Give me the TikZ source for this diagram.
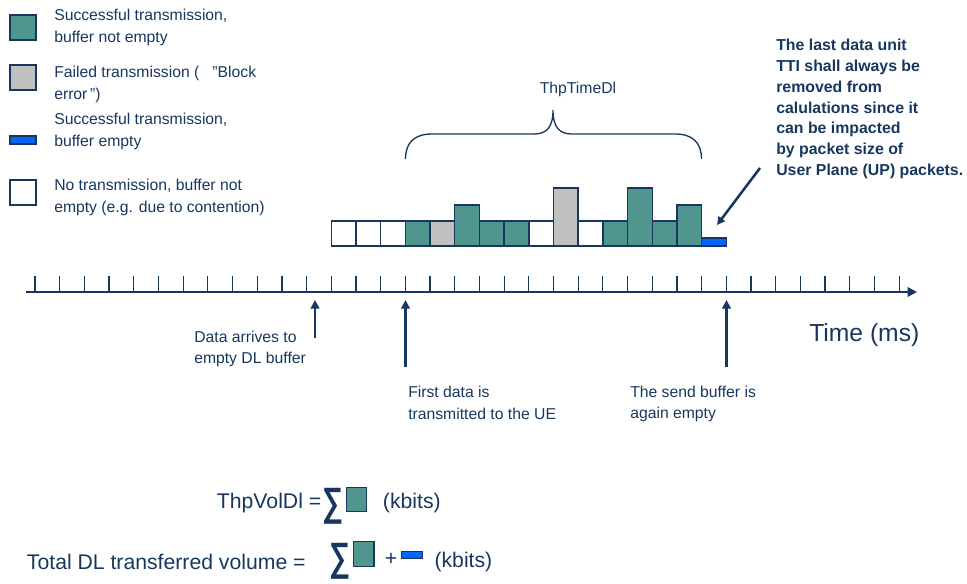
\documentclass[tikz,border=0pt]{standalone}
\usepackage{fontspec}
\setmainfont{Liberation Sans}
\usetikzlibrary{arrows.meta}
\definecolor{navy}{RGB}{23,55,94}
\definecolor{tealc}{RGB}{80,150,143}
\definecolor{greyc}{RGB}{192,192,192}
\definecolor{bluec}{RGB}{0,102,255}
\begin{document}
\begin{tikzpicture}[x=0.75pt,y=-0.75pt,
  lgd/.style={text=navy, font=\fontsize{11.8}{16.5}\selectfont, align=left, inner sep=0pt, anchor=west},
  lbl/.style={text=navy, font=\fontsize{11.8}{16}\selectfont, align=left, inner sep=0pt, anchor=west},
  note/.style={text=navy, font=\fontsize{11.9}{15.6}\selectfont\bfseries, align=left, inner sep=0pt, anchor=west},
  big/.style={text=navy, font=\fontsize{15.9}{18}\selectfont, inner sep=0pt},
  sig/.style={text=navy, font=\bfseries, inner sep=0pt, anchor=center},
  blk/.style={draw=navy, line width=1.1pt},
  tick/.style={draw=navy, line width=0.9pt},
  axisline/.style={draw=navy, line width=2.2pt, -{Triangle[length=7pt,width=7pt]}},
  uparrow/.style={draw=navy, line width=2.2pt, -{Triangle[length=6.5pt,width=6.5pt]}},
  brace/.style={draw=navy, line width=1pt}
]
\useasboundingbox (0,0) rectangle (967,583);
% legend
\draw[blk, fill=tealc] (10,15) rectangle (36,40);
\draw[blk, fill=greyc] (10,65) rectangle (36,90);
\draw[blk, fill=bluec] (10,136) rectangle (36,144);
\draw[blk, fill=white] (10,180) rectangle (36,205);
\node[lgd] (l1) at (54,27.5) {Successful transmission,\\buffer not empty};
\node[lgd] (l2) at (54,84.5) {Failed transmission (~~~”Block\\error\,”)};
\node[lgd] (l3) at (54,131.5) {Successful transmission,\\buffer empty};
\node[lgd] (l4) at (54,197) {No transmission, buffer not\\empty (e.g. due to contention)};
% blocks
\foreach \k/\h/\c in {12/25/white,13/25/white,14/25/white,15/25/tealc,16/25/greyc,17/41/tealc,18/25/tealc,19/25/tealc,20/25/white,21/58/greyc,22/25/white,23/25/tealc,24/58/tealc,25/25/tealc,26/41/tealc,27/8/bluec}
  \draw[blk, fill=\c] ({35+24.69*\k},246) rectangle ({35+24.69*(\k+1)},{246-\h});
% axis
\coordinate (ax0) at (26,292);
\coordinate (ax1) at (917,292);
\foreach \k in {0,...,35}
  \draw[tick] ({35+24.69*\k},276) -- ({35+24.69*\k},292);
\draw[axisline] (ax0) -- (ax1);
\node[big, font=\fontsize{18.5}{20}\selectfont, anchor=west] (time) at (809,335) {Time (ms)};
% brace
\node[text=navy, font=\fontsize{11.8}{14}\selectfont, inner sep=0pt] (thpt) at (578,89.5) {ThpTimeDl};
\draw[brace] (405.5,159) .. controls (405.5,142) and (415,134) .. (432,134) -- (534,134)
  .. controls (546,134) and (553,128) .. (553,110)
  .. controls (553,128) and (560,134) .. (572,134) -- (675,134)
  .. controls (692,134) and (701.5,142) .. (701.5,159);
% up arrows and labels
\node[lbl] (arr) at (194,349) {Data arrives to\\empty DL buffer};
\coordinate (a1b) at (315,338); \coordinate (a1t) at (315,300);
\draw[uparrow] (a1b) -- (a1t);
\node[lbl] (first) at (408,403) {First data is\\transmitted to the UE};
\coordinate (a2b) at (405.5,367); \coordinate (a2t) at (405.5,300);
\draw[uparrow] (a2b) -- (a2t);
\node[lbl] (send) at (630,404) {The send buffer is\\again empty};
\coordinate (a3b) at (726.5,367); \coordinate (a3t) at (726.5,300);
\draw[uparrow] (a3b) -- (a3t);
% note
\node[note] (nt) at (776,109) {The last data unit\\TTI shall always be\\removed from\\calulations since it\\can be impacted\\by packet size of\\User Plane (UP) packets.};
\coordinate (d0) at (760,168); \coordinate (d1) at (717,225);
\draw[draw=navy, line width=1.9pt, -{Triangle[length=6pt,width=6pt]}] (d0) -- (d1);
% formulas
\node[big, anchor=west] (f1) at (216.7,503) {ThpVolDl =};
\node[sig] (s1) at (332.5,506) {\resizebox*{15.75pt}{27pt}{∑}};
\draw[blk, fill=tealc] (346.7,487.7) rectangle (366.7,511.7);
\node[big, anchor=west] (k1) at (382.7,503) {(kbits)};
\node[big, anchor=west] (f2) at (26.7,562) {Total DL transferred volume =};
\node[sig] (s2) at (340.3,561) {\resizebox*{15.75pt}{27pt}{∑}};
\draw[blk, fill=tealc] (353.3,541.7) rectangle (374,566.7);
\node[big] (plus) at (391,559.5) {+};
\draw[blk, fill=bluec] (401.7,551.7) rectangle (422.7,558.3);
\node[big, anchor=west] (k2) at (434.3,562) {(kbits)};
\end{tikzpicture}
\end{document}
